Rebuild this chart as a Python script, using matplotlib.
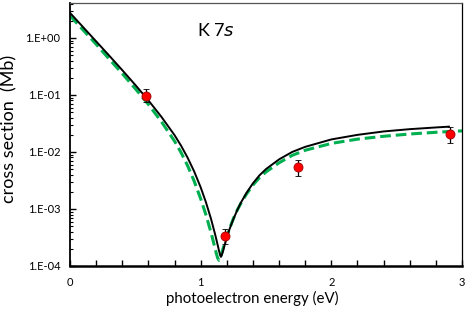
import matplotlib
matplotlib.use("Agg")
import matplotlib.pyplot as plt
from matplotlib.ticker import LogLocator, NullFormatter
import numpy as np

# Black theory curve: photoelectron energy (eV) and log10 of cross section (Mb)
energy_black = [0.0, 0.1, 0.2, 0.3, 0.4, 0.5, 0.6, 0.7, 0.8, 0.85, 0.9, 0.95,
                1.0, 1.04, 1.08, 1.11, 1.13, 1.14, 1.15, 1.155, 1.16, 1.17, 1.18,
                1.2, 1.22, 1.25, 1.28, 1.31, 1.35, 1.4, 1.45, 1.5, 1.6, 1.7, 1.8,
                2.0, 2.2, 2.4, 2.6, 2.8, 2.9]
log_sigma_black = [0.44, 0.19, -0.06, -0.31, -0.565, -0.825, -1.095, -1.385, -1.705, -1.89, -2.10, -2.34,
                   -2.62, -2.88, -3.18, -3.44, -3.63, -3.73, -3.815, -3.84, -3.82, -3.75, -3.66,
                   -3.50, -3.36, -3.18, -3.02, -2.88, -2.72, -2.55, -2.41, -2.30, -2.13, -2.00, -1.91,
                   -1.78, -1.70, -1.64, -1.60, -1.57, -1.556]

# Green dashed theory curve
energy_green = [0.0, 0.1, 0.2, 0.3, 0.4, 0.5, 0.6, 0.7, 0.8, 0.85, 0.9, 0.95,
                1.0, 1.04, 1.08, 1.10, 1.12, 1.13, 1.14, 1.15, 1.16, 1.18,
                1.2, 1.22, 1.25, 1.28, 1.31, 1.35, 1.4, 1.45, 1.5, 1.6, 1.7, 1.8,
                2.0, 2.2, 2.4, 2.6, 2.8, 3.0]
log_sigma_green = [0.39, 0.14, -0.11, -0.37, -0.625, -0.89, -1.165, -1.47, -1.81, -2.01, -2.24, -2.51,
                   -2.82, -3.10, -3.42, -3.60, -3.78, -3.86, -3.90, -3.86, -3.78, -3.63,
                   -3.48, -3.35, -3.17, -3.02, -2.89, -2.74, -2.58, -2.45, -2.35, -2.19, -2.06, -1.97,
                   -1.85, -1.775, -1.725, -1.685, -1.655, -1.63]

# Experimental points
exp_energy = [0.58, 1.186, 1.747, 2.907]
exp_sigma = [0.097, 3.3e-4, 5.5e-3, 0.0207]
exp_err_lo = [0.022, 0.9e-4, 1.7e-3, 0.0065]
exp_err_hi = [0.030, 1.1e-4, 1.6e-3, 0.0063]

xticks_major = [0, 1, 2, 3]
xticks_minor = [0.2, 0.4, 0.6, 0.8, 1.2, 1.4, 1.6, 1.8, 2.2, 2.4, 2.6, 2.8]
yticks = [1e-4, 1e-3, 1e-2, 1e-1, 1e0]
ytick_labels = ["1.E-04", "1.E-03", "1.E-02", "1.E-01", "1.E+00"]

sigma_black = [10 ** v for v in log_sigma_black]
sigma_green = [10 ** v for v in log_sigma_green]

plt.rcParams['font.family'] = ['Lato', 'DejaVu Sans']

fig = plt.figure(figsize=(4.69, 3.12), dpi=100)
ax = fig.add_axes([70/469, 46/312, 392/469, 263/312])

ax.plot(energy_green, sigma_green, color='#00B050', lw=2.2, dashes=(3.5, 1.6), zorder=2)
ax.plot(energy_black, sigma_black, color='black', lw=1.4, zorder=3)
ax.errorbar(exp_energy, exp_sigma, yerr=[exp_err_lo, exp_err_hi], fmt='o',
            color='black', ecolor='black', elinewidth=0.9, capsize=2, capthick=0.9,
            markerfacecolor='#FF0000', markeredgecolor='#A00000', markeredgewidth=0.6,
            markersize=6.5, zorder=4)

ax.set_yscale('log')
ax.set_xlim(0, 3)
ax.set_ylim(1e-4, 4.1)

ax.set_xticks(xticks_major)
ax.set_xticks(xticks_minor, minor=True)
ax.set_xticklabels([str(t) for t in xticks_major])
ax.set_yticks(yticks)
ax.set_yticklabels(ytick_labels)
ax.yaxis.set_minor_locator(LogLocator(base=10, subs=np.arange(2, 10), numticks=20))
ax.yaxis.set_minor_formatter(NullFormatter())

ax.tick_params(axis='both', which='major', direction='in', length=4, width=1,
               labelsize=8, colors='black')
ax.tick_params(axis='x', which='minor', direction='in', length=4, width=1)
ax.tick_params(axis='y', which='minor', direction='in', length=2.5, width=0.8)
ax.tick_params(axis='y', which='major', pad=7)
ax.tick_params(axis='x', which='major', pad=8)

for s in ['top', 'right']:
    ax.spines[s].set_linewidth(0.9)
ax.spines['top'].set_color('#555555')
ax.spines['left'].set_linewidth(1.3)
ax.spines['bottom'].set_linewidth(1.8)

ax.set_xlabel('photoelectron energy (eV)', fontsize=10.8)
ax.xaxis.set_label_coords((252 - 70) / 392, -0.095)
ax.set_ylabel('cross section  (Mb)', fontsize=13)
ax.yaxis.set_label_coords(-0.135, 0.52)

ax.text(0.325, 0.897, r'K 7$\it{s}$', transform=ax.transAxes, fontsize=13,
        ha='left', va='center')

fig.savefig('out.png', dpi=100)
